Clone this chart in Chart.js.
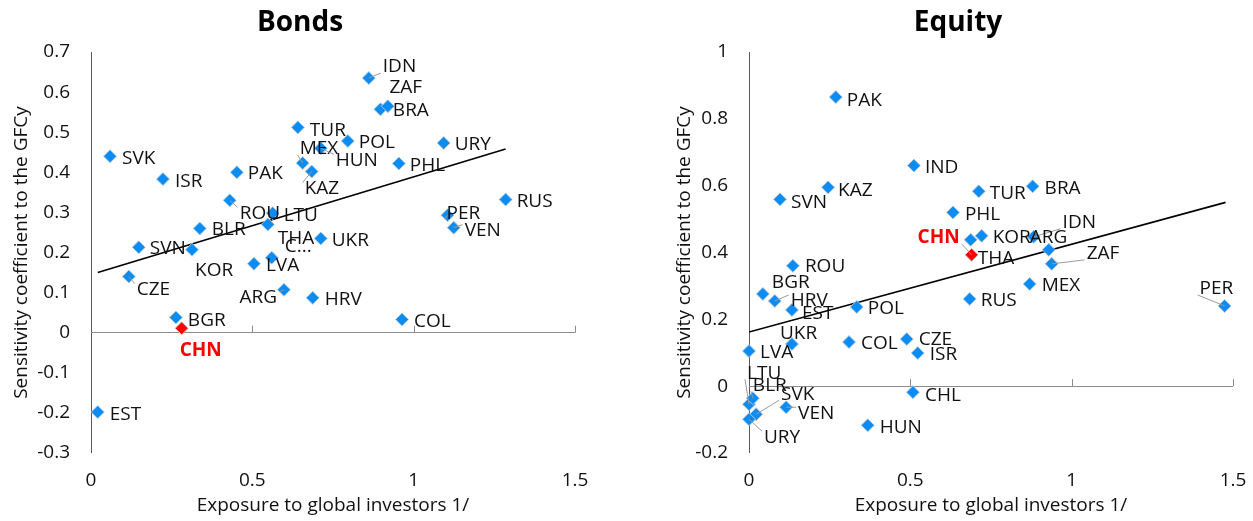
<!DOCTYPE html>
<html>
<head>
<meta charset="utf-8">
<script src="https://cdn.jsdelivr.net/npm/chart.js@4/dist/chart.umd.min.js"></script>
<style>
  body { margin: 0; background: #fff; width: 1253px; height: 521px; overflow: hidden; position: relative; }
  #bondsBox { position: absolute; left: 0; top: 0; width: 600px; height: 521px; }
  #equityBox { position: absolute; left: 663px; top: 0; width: 590px; height: 521px; }
</style>
</head>
<body>
<div id="bondsBox"><canvas id="bondsChart" width="600" height="521"></canvas></div>
<div id="equityBox"><canvas id="equityChart" width="590" height="521"></canvas></div>
<script>
// Bonds panel data
const bondCountries = ['IDN','ZAF','BRA','TUR','MEX','POL','HUN','KAZ','URY','PHL','PAK','ISR','ROU','LTU','THA','CHL',
  'UKR','BLR','SVN','KOR','LVA','ARG','HRV','CZE','BGR','CHN','EST','COL','RUS','PER','VEN','SVK'];
const bondExposure = [0.861,0.897,0.920,0.641,0.656,0.796,0.712,0.684,1.093,0.954,0.452,0.223,0.430,0.563,0.548,0.560,
  0.712,0.337,0.148,0.313,0.505,0.598,0.687,0.117,0.263,0.281,0.021,0.964,1.285,1.105,1.124,0.059];
const bondSensitivity = [0.635,0.557,0.565,0.512,0.423,0.478,0.460,0.402,0.473,0.422,0.400,0.383,0.330,0.298,0.270,0.187,
  0.235,0.260,0.213,0.207,0.172,0.107,0.087,0.140,0.038,0.011,-0.198,0.033,0.332,0.293,0.262,0.440];
const bondTrendX = [0.021, 1.285];
const bondTrendY = [0.150, 0.458];

// Equity panel data
const equityCountries = ['PAK','IND','KAZ','SVN','PHL','TUR','BRA','THA','KOR','IDN','ARG','ZAF','MEX','RUS','PER','ROU',
  'BGR','HRV','EST','POL','UKR','COL','CZE','ISR','LVA','CHL','HUN','LTU','BLR','SVK','VEN','URY','CHN'];
const equityExposure = [0.269,0.511,0.245,0.096,0.632,0.712,0.879,0.687,0.721,0.882,0.929,0.938,0.870,0.684,1.474,0.136,
  0.043,0.080,0.133,0.334,0.133,0.310,0.489,0.523,0.000,0.508,0.368,0.000,0.012,0.022,0.115,0.000,0.690];
const equitySensitivity = [0.865,0.660,0.595,0.559,0.520,0.583,0.598,0.438,0.450,0.447,0.408,0.366,0.306,0.261,0.240,0.360,
  0.276,0.255,0.228,0.237,0.126,0.132,0.141,0.099,0.105,-0.018,-0.117,-0.054,-0.036,-0.084,-0.063,-0.099,0.393];
const equityTrendX = [0.000, 1.477];
const equityTrendY = [0.162, 0.550];

const xTickValues = [0, 0.5, 1, 1.5];
const highlighted = 'CHN';

// label placement: [dx, dy, align, leader line, text override]
const bondLabelPos = {
  IDN: [14,-11,'left',1], ZAF: [9,-22], BRA: [5,4], TUR: [12,3], MEX: [-3,-14,'left',1], POL: [11,2],
  HUN: [15,12,'left',1], KAZ: [-7,17,'left',1], URY: [11,2], PHL: [11,2], PAK: [11,1], ISR: [12,2],
  ROU: [10,13,'left',1], LTU: [11,2], THA: [10,14], CHL: [13,-11,'left',0,'C...'], UKR: [11,2], BLR: [12,1],
  SVN: [11,1], KOR: [3,21], LVA: [12,2], ARG: [-7,8,'right',1], HRV: [12,2], CZE: [8,13,'left',1],
  BGR: [12,3], CHN: [-2,22], EST: [12,2], COL: [12,2], RUS: [11,2], PER: [-1,-2,'left',1], VEN: [11,3,'left',1],
  SVK: [12,2]
};
const equityLabelPos = {
  PAK: [11,3], IND: [11,2], KAZ: [10,3], SVN: [11,3], PHL: [12,2], TUR: [11,2], BRA: [12,2],
  CHN: [-12,-17,'right',1], THA: [7,19], KOR: [11,2], IDN: [29,-14,'left',1], ARG: [-19,-12], ZAF: [35,-10,'left',1],
  MEX: [12,2], RUS: [11,2], PER: [-25,-17,'left',1], ROU: [12,1], BGR: [9,-11], HRV: [16,0,'left',1], EST: [10,4],
  POL: [11,2], UKR: [-12,-10], COL: [12,2], CZE: [12,1], ISR: [12,2], LVA: [11,2], CHL: [12,3], HUN: [12,2],
  LTU: [-2,-31,'left',1], BLR: [0,-13,'left',1], SVK: [25,-20,'left',1], VEN: [12,6,'left',1], URY: [15,18,'left',1]
};

const FONT = '"Open Sans", "Noto Sans", sans-serif';
Chart.defaults.font.family = FONT;
Chart.defaults.font.size = 19;
Chart.defaults.color = '#111';

// point labels and leader lines
const pointLabels = {
  id: 'pointLabels',
  afterDatasetsDraw(chart, args, opts) {
    const ctx = chart.ctx;
    const meta = chart.getDatasetMeta(0);
    ctx.save();
    ctx.textBaseline = 'middle';
    meta.data.forEach((pt, i) => {
      const name = opts.names[i];
      const pos = opts.positions[name] || [12, 2];
      const tx = pt.x + pos[0];
      const ty = pt.y + pos[1];
      if (pos[3]) {
        ctx.strokeStyle = '#9a9a9a';
        ctx.lineWidth = 1;
        ctx.beginPath();
        ctx.moveTo(pt.x, pt.y);
        ctx.lineTo(tx + (pos[2] === 'right' ? 2 : -2), ty + (pos[1] < 0 ? 6 : -6));
        ctx.stroke();
      }
      const isHi = name === highlighted;
      ctx.font = (isHi ? 'bold ' : '') + '19px ' + FONT;
      ctx.fillStyle = isHi ? '#ff0000' : '#111';
      ctx.textAlign = pos[2] || 'left';
      ctx.fillText(pos[4] || name, tx, ty);
    });
    ctx.restore();
  }
};

// small upward tick marks on the zero line
const zeroTicks = {
  id: 'zeroTicks',
  afterDraw(chart) {
    const ctx = chart.ctx;
    const xs = chart.scales.x, ys = chart.scales.y;
    const y0 = ys.getPixelForValue(0);
    ctx.save();
    ctx.strokeStyle = '#8c8c8c';
    ctx.lineWidth = 1;
    xTickValues.slice(1).forEach(v => {
      const px = Math.round(xs.getPixelForValue(v)) + 0.5;
      ctx.beginPath();
      ctx.moveTo(px, y0);
      ctx.lineTo(px, y0 - 7);
      ctx.stroke();
    });
    ctx.restore();
  }
};

function makePanel(canvasId, title, names, xs, ys, trendX, trendY, yMin, yMax, yStep, yWidth, rightPad, labelPos) {
  const points = names.map((n, i) => ({ x: xs[i], y: ys[i] }));
  const trend = trendX.map((x, i) => ({ x: x, y: trendY[i] }));
  return new Chart(document.getElementById(canvasId), {
    type: 'scatter',
    data: {
      datasets: [{
        data: points,
        pointStyle: 'rectRot',
        pointRadius: 6.5,
        backgroundColor: names.map(n => n === highlighted ? '#ff0000' : '#0a8cf5'),
        borderColor: 'rgba(190,200,210,0.9)',
        borderWidth: 1,
        clip: false
      }, {
        type: 'line',
        data: trend,
        showLine: true,
        borderColor: '#000',
        borderWidth: 1.6,
        pointRadius: 0,
        fill: false
      }]
    },
    options: {
      responsive: false,
      animation: false,
      layout: { padding: 0 },
      plugins: {
        legend: { display: false },
        tooltip: { enabled: false },
        title: {
          display: true,
          text: title,
          color: '#000',
          font: { size: 28, weight: 'bold' },
          padding: { top: 6, bottom: 12.4 }
        },
        pointLabels: { names: names, positions: labelPos }
      },
      scales: {
        x: {
          type: 'linear',
          min: 0, max: 1.5,
          afterBuildTicks: s => { s.ticks = xTickValues.map(v => ({ value: v })); },
          afterFit: s => { s.height = 68; s.paddingLeft = 0; s.paddingRight = rightPad; },
          ticks: { padding: 16, callback: v => String(v) },
          grid: {
            drawTicks: false,
            color: c => (c.tick && c.tick.value === 0) ? '#5a5a5a' : 'rgba(0,0,0,0)',
            lineWidth: 1
          },
          border: { display: false },
          title: { display: true, text: 'Exposure to global investors 1/', padding: { top: 0, bottom: 4 } }
        },
        y: {
          type: 'linear',
          min: yMin, max: yMax,
          afterFit: s => { s.width = yWidth; s.paddingTop = 0; s.paddingBottom = 0; },
          ticks: { stepSize: yStep, padding: 21, callback: v => String(Number(v.toFixed(1))) },
          grid: {
            drawTicks: false,
            color: c => (c.tick && Math.abs(c.tick.value) < 1e-9) ? '#8c8c8c' : 'rgba(0,0,0,0)',
            lineWidth: 1
          },
          border: { display: false },
          title: { display: true, text: 'Sensitivity coefficient to the GFCy', padding: { top: 10, bottom: 0 } }
        }
      }
    },
    plugins: [pointLabels, zeroTicks]
  });
}

makePanel('bondsChart', 'Bonds', bondCountries, bondExposure, bondSensitivity, bondTrendX, bondTrendY,
  -0.3, 0.7, 0.1, 91, 25, bondLabelPos);
makePanel('equityChart', 'Equity', equityCountries, equityExposure, equitySensitivity, equityTrendX, equityTrendY,
  -0.2, 1, 0.2, 86, 20, equityLabelPos);
</script>
</body>
</html>
